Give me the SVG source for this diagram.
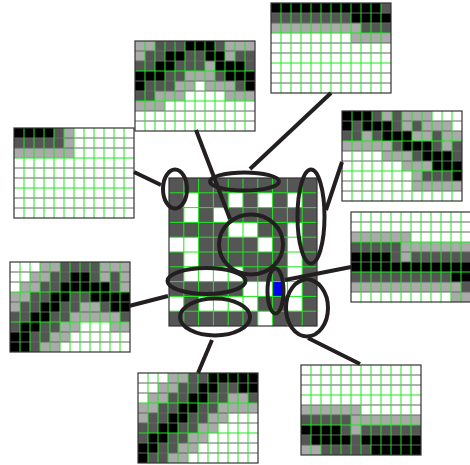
<svg xmlns="http://www.w3.org/2000/svg" xmlns:xlink="http://www.w3.org/1999/xlink" width="470" height="465" viewBox="0 0 470 465">
<style>
.k{fill:#000}.d{fill:#555}.l{fill:#aaa}.w{fill:#fff}
.gv{stroke:#1fe81f;stroke-width:1;fill:none}
.gh{stroke:#666;stroke-width:1;fill:none}
.bd{fill:none;stroke:#333;stroke-width:1.2}
.el{fill:none;stroke:#231f20;stroke-width:4}
.cn{stroke:#231f20;stroke-width:4;fill:none}
</style>
<defs>
<g id="pgrid">
<path class="gh" d="M0 10H120M0 20H120M0 40H120M0 50H120M0 70H120M0 80H120"/>
<path class="gv" d="M0 30H120M0 60H120M10 0V90M20 0V90M30 0V90M40 0V90M50 0V90M60 0V90M70 0V90M80 0V90M90 0V90M100 0V90M110 0V90"/>
<rect class="bd" x="0" y="0" width="120" height="90"/>
</g>
</defs>
<rect width="470" height="465" fill="#fff"/>

<g id="patch1" transform="translate(135,41)">
<rect class="w" width="120" height="90"/>
<rect class="l" x="0" y="0" width="20" height="10"/><rect class="d" x="20" y="0" width="30" height="10"/><rect class="k" x="50" y="0" width="30" height="10"/><rect class="d" x="80" y="0" width="10" height="10"/><rect class="l" x="90" y="0" width="30" height="10"/>
<rect class="l" x="0" y="10" width="10" height="10"/><rect class="d" x="10" y="10" width="20" height="10"/><rect class="k" x="30" y="10" width="20" height="10"/><rect class="d" x="50" y="10" width="20" height="10"/><rect class="k" x="70" y="10" width="20" height="10"/><rect class="l" x="90" y="10" width="10" height="10"/><rect class="d" x="100" y="10" width="20" height="10"/>
<rect class="d" x="0" y="20" width="20" height="10"/><rect class="k" x="20" y="20" width="20" height="10"/><rect class="d" x="40" y="20" width="30" height="10"/><rect class="l" x="70" y="20" width="10" height="10"/><rect class="k" x="80" y="20" width="30" height="10"/><rect class="d" x="110" y="20" width="10" height="10"/>
<rect class="k" x="0" y="30" width="30" height="10"/><rect class="d" x="30" y="30" width="20" height="10"/><rect class="l" x="50" y="30" width="30" height="10"/><rect class="d" x="80" y="30" width="10" height="10"/><rect class="k" x="90" y="30" width="30" height="10"/>
<rect class="k" x="0" y="40" width="10" height="10"/><rect class="d" x="10" y="40" width="30" height="10"/><rect class="l" x="40" y="40" width="20" height="10"/><rect class="l" x="70" y="40" width="30" height="10"/><rect class="d" x="100" y="40" width="10" height="10"/><rect class="k" x="110" y="40" width="10" height="10"/>
<rect class="d" x="0" y="50" width="20" height="10"/><rect class="l" x="20" y="50" width="30" height="10"/><rect class="l" x="90" y="50" width="30" height="10"/>
<rect class="l" x="0" y="60" width="30" height="10"/>
<use xlink:href="#pgrid"/>
</g>

<g id="patch2" transform="translate(271,3)">
<rect class="w" width="120" height="90"/>
<rect class="k" x="0" y="0" width="110" height="10"/><rect class="d" x="110" y="0" width="10" height="10"/>
<rect class="d" x="0" y="10" width="80" height="10"/><rect class="k" x="80" y="10" width="40" height="10"/>
<rect class="l" x="0" y="20" width="90" height="10"/><rect class="d" x="90" y="20" width="30" height="10"/>
<rect class="l" x="80" y="30" width="40" height="10"/>
<use xlink:href="#pgrid"/>
</g>

<g id="patch3" transform="translate(14,128)">
<rect class="w" width="120" height="90"/>
<rect class="k" x="0" y="0" width="40" height="10"/><rect class="d" x="40" y="0" width="10" height="10"/><rect class="l" x="50" y="0" width="10" height="10"/>
<rect class="d" x="0" y="10" width="50" height="10"/><rect class="l" x="50" y="10" width="10" height="10"/>
<rect class="l" x="0" y="20" width="60" height="10"/>
<use xlink:href="#pgrid"/>
</g>

<g id="patch4" transform="translate(342,111)">
<rect class="w" width="120" height="90"/>
<rect class="k" x="0" y="0" width="30" height="10"/><rect class="d" x="30" y="0" width="10" height="10"/><rect class="l" x="40" y="0" width="10" height="10"/><rect class="d" x="50" y="0" width="10" height="10"/><rect class="l" x="60" y="0" width="30" height="10"/>
<rect class="k" x="0" y="10" width="10" height="10"/><rect class="d" x="10" y="10" width="10" height="10"/><rect class="k" x="20" y="10" width="30" height="10"/><rect class="d" x="50" y="10" width="10" height="10"/><rect class="l" x="60" y="10" width="10" height="10"/><rect class="d" x="70" y="10" width="10" height="10"/><rect class="l" x="80" y="10" width="30" height="10"/>
<rect class="d" x="0" y="20" width="20" height="10"/><rect class="l" x="20" y="20" width="10" height="10"/><rect class="d" x="30" y="20" width="10" height="10"/><rect class="k" x="40" y="20" width="30" height="10"/><rect class="l" x="70" y="20" width="20" height="10"/><rect class="d" x="90" y="20" width="10" height="10"/><rect class="l" x="100" y="20" width="20" height="10"/>
<rect class="l" x="0" y="30" width="50" height="10"/><rect class="d" x="50" y="30" width="10" height="10"/><rect class="k" x="60" y="30" width="30" height="10"/><rect class="d" x="90" y="30" width="10" height="10"/><rect class="l" x="100" y="30" width="10" height="10"/><rect class="d" x="110" y="30" width="10" height="10"/>
<rect class="l" x="40" y="40" width="30" height="10"/><rect class="d" x="70" y="40" width="10" height="10"/><rect class="k" x="80" y="40" width="30" height="10"/><rect class="d" x="110" y="40" width="10" height="10"/>
<rect class="l" x="60" y="50" width="30" height="10"/><rect class="k" x="90" y="50" width="30" height="10"/>
<rect class="l" x="70" y="60" width="10" height="10"/><rect class="d" x="80" y="60" width="30" height="10"/><rect class="k" x="110" y="60" width="10" height="10"/>
<rect class="l" x="70" y="70" width="50" height="10"/>
<use xlink:href="#pgrid"/>
</g>

<g id="patch5" transform="translate(351,212)">
<rect class="w" width="120" height="90"/>
<rect class="l" x="0" y="20" width="60" height="10"/>
<rect class="d" x="0" y="30" width="50" height="10"/><rect class="l" x="50" y="30" width="70" height="10"/>
<rect class="k" x="0" y="40" width="40" height="10"/><rect class="d" x="40" y="40" width="10" height="10"/><rect class="l" x="50" y="40" width="10" height="10"/><rect class="d" x="60" y="40" width="60" height="10"/>
<rect class="k" x="0" y="50" width="120" height="10"/>
<rect class="d" x="0" y="60" width="100" height="10"/><rect class="k" x="100" y="60" width="20" height="10"/>
<rect class="l" x="0" y="70" width="110" height="10"/><rect class="d" x="110" y="70" width="10" height="10"/>
<rect class="l" x="100" y="80" width="20" height="10"/>
<use xlink:href="#pgrid"/>
</g>

<g id="patch6" transform="translate(10,262)">
<rect class="w" width="120" height="90"/>
<rect class="l" x="30" y="0" width="20" height="10"/><rect class="d" x="50" y="0" width="40" height="10"/><rect class="l" x="90" y="0" width="30" height="10"/>
<rect class="l" x="20" y="10" width="20" height="10"/><rect class="d" x="40" y="10" width="20" height="10"/><rect class="k" x="60" y="10" width="20" height="10"/><rect class="d" x="80" y="10" width="10" height="10"/><rect class="l" x="90" y="10" width="10" height="10"/><rect class="d" x="100" y="10" width="10" height="10"/><rect class="l" x="110" y="10" width="10" height="10"/>
<rect class="l" x="10" y="20" width="20" height="10"/><rect class="d" x="30" y="20" width="20" height="10"/><rect class="k" x="50" y="20" width="50" height="10"/><rect class="d" x="100" y="20" width="10" height="10"/><rect class="l" x="110" y="20" width="10" height="10"/>
<rect class="l" x="0" y="30" width="20" height="10"/><rect class="d" x="20" y="30" width="20" height="10"/><rect class="k" x="40" y="30" width="20" height="10"/><rect class="d" x="60" y="30" width="20" height="10"/><rect class="k" x="80" y="30" width="40" height="10"/>
<rect class="l" x="0" y="40" width="10" height="10"/><rect class="d" x="10" y="40" width="20" height="10"/><rect class="k" x="30" y="40" width="20" height="10"/><rect class="d" x="50" y="40" width="20" height="10"/><rect class="l" x="70" y="40" width="20" height="10"/><rect class="d" x="90" y="40" width="10" height="10"/><rect class="k" x="100" y="40" width="20" height="10"/>
<rect class="d" x="0" y="50" width="20" height="10"/><rect class="k" x="20" y="50" width="20" height="10"/><rect class="d" x="40" y="50" width="20" height="10"/><rect class="l" x="60" y="50" width="50" height="10"/><rect class="d" x="110" y="50" width="10" height="10"/>
<rect class="d" x="0" y="60" width="10" height="10"/><rect class="k" x="10" y="60" width="20" height="10"/><rect class="d" x="30" y="60" width="20" height="10"/><rect class="l" x="50" y="60" width="20" height="10"/><rect class="l" x="100" y="60" width="20" height="10"/>
<rect class="k" x="0" y="70" width="20" height="10"/><rect class="d" x="20" y="70" width="20" height="10"/><rect class="l" x="40" y="70" width="20" height="10"/>
<rect class="k" x="0" y="80" width="20" height="10"/><rect class="d" x="20" y="80" width="10" height="10"/><rect class="l" x="30" y="80" width="20" height="10"/>
<use xlink:href="#pgrid"/>
</g>

<g id="patch7" transform="translate(138,373)">
<rect class="w" width="120" height="90"/>
<rect class="l" x="30" y="0" width="20" height="10"/><rect class="d" x="50" y="0" width="20" height="10"/><rect class="k" x="70" y="0" width="50" height="10"/>
<rect class="l" x="20" y="10" width="20" height="10"/><rect class="d" x="40" y="10" width="20" height="10"/><rect class="k" x="60" y="10" width="20" height="10"/><rect class="d" x="80" y="10" width="20" height="10"/><rect class="k" x="100" y="10" width="20" height="10"/>
<rect class="l" x="10" y="20" width="20" height="10"/><rect class="d" x="30" y="20" width="20" height="10"/><rect class="k" x="50" y="20" width="20" height="10"/><rect class="d" x="70" y="20" width="20" height="10"/><rect class="l" x="90" y="20" width="20" height="10"/><rect class="d" x="110" y="20" width="10" height="10"/>
<rect class="l" x="0" y="30" width="20" height="10"/><rect class="d" x="20" y="30" width="20" height="10"/><rect class="k" x="40" y="30" width="20" height="10"/><rect class="d" x="60" y="30" width="20" height="10"/><rect class="l" x="80" y="30" width="40" height="10"/>
<rect class="l" x="0" y="40" width="10" height="10"/><rect class="d" x="10" y="40" width="20" height="10"/><rect class="k" x="30" y="40" width="20" height="10"/><rect class="d" x="50" y="40" width="20" height="10"/><rect class="l" x="70" y="40" width="20" height="10"/>
<rect class="d" x="0" y="50" width="20" height="10"/><rect class="k" x="20" y="50" width="20" height="10"/><rect class="d" x="40" y="50" width="20" height="10"/><rect class="l" x="60" y="50" width="20" height="10"/>
<rect class="d" x="0" y="60" width="10" height="10"/><rect class="k" x="10" y="60" width="20" height="10"/><rect class="d" x="30" y="60" width="20" height="10"/><rect class="l" x="50" y="60" width="20" height="10"/>
<rect class="k" x="0" y="70" width="20" height="10"/><rect class="d" x="20" y="70" width="20" height="10"/><rect class="l" x="40" y="70" width="20" height="10"/>
<rect class="k" x="0" y="80" width="10" height="10"/><rect class="d" x="10" y="80" width="20" height="10"/><rect class="l" x="30" y="80" width="20" height="10"/>
<use xlink:href="#pgrid"/>
</g>

<g id="patch8" transform="translate(301,365)">
<rect class="w" width="120" height="90"/>
<rect class="l" x="0" y="40" width="60" height="10"/>
<rect class="d" x="0" y="50" width="50" height="10"/><rect class="l" x="50" y="50" width="70" height="10"/>
<rect class="k" x="0" y="60" width="40" height="10"/><rect class="d" x="40" y="60" width="10" height="10"/><rect class="l" x="50" y="60" width="10" height="10"/><rect class="d" x="60" y="60" width="60" height="10"/>
<rect class="d" x="0" y="70" width="10" height="10"/><rect class="k" x="10" y="70" width="40" height="10"/><rect class="d" x="50" y="70" width="10" height="10"/><rect class="k" x="60" y="70" width="60" height="10"/>
<rect class="l" x="0" y="80" width="20" height="10"/><rect class="d" x="20" y="80" width="50" height="10"/><rect class="k" x="70" y="80" width="50" height="10"/>
<use xlink:href="#pgrid"/>
</g>

<g id="center" transform="translate(169,178)">
<rect class="d" width="148" height="148"/>
<rect class="w" x="14.8" y="14.8" width="14.8" height="29.6"/>
<rect class="w" x="59.2" y="14.8" width="14.8" height="14.8"/>
<rect class="w" x="88.8" y="14.8" width="14.8" height="14.8"/>
<rect class="w" x="118.4" y="14.8" width="14.8" height="14.8"/>
<rect class="w" x="44.4" y="29.6" width="14.8" height="14.8"/>
<rect class="w" x="59.2" y="44.4" width="29.6" height="14.8"/>
<rect class="w" x="118.4" y="44.4" width="14.8" height="88.8"/>
<rect class="w" x="0" y="59.2" width="29.6" height="14.8"/>
<rect class="w" x="88.8" y="59.2" width="14.8" height="14.8"/>
<rect class="w" x="14.8" y="74" width="14.8" height="14.8"/>
<rect class="w" x="14.8" y="88.8" width="59.2" height="14.8"/>
<rect class="w" x="74" y="103.6" width="44.4" height="14.8"/>
<rect x="103.6" y="103.6" width="11" height="14.8" fill="#0000f0"/>
<rect class="w" x="0" y="118.4" width="14.8" height="14.8"/>
<rect class="w" x="29.6" y="118.4" width="59.2" height="14.8"/>
<rect class="w" x="88.8" y="133.2" width="14.8" height="14.8"/>
<path class="gv" d="M14.8 0V148M29.6 0V148M44.4 0V148M59.2 0V148M74 0V148M88.8 0V148M103.6 0V148M118.4 0V148M133.2 0V148M0 14.8H148M0 29.6H148M0 44.4H148M0 59.2H148M0 74H148M0 88.8H148M0 103.6H148M0 118.4H148M0 133.2H148"/>
<rect class="bd" width="148" height="148"/>
</g>

<g id="connectors">
<line class="cn" x1="196" y1="130" x2="230" y2="219"/>
<line class="cn" x1="331" y1="93" x2="250" y2="169"/>
<line class="cn" x1="134" y1="172" x2="161" y2="185"/>
<line class="cn" x1="342" y1="162" x2="326" y2="210"/>
<line class="cn" x1="351" y1="267" x2="285" y2="280"/>
<line class="cn" x1="129" y1="306" x2="168" y2="296"/>
<line class="cn" x1="212" y1="340" x2="198" y2="373"/>
<line class="cn" x1="308" y1="338" x2="360" y2="364"/>
</g>

<g id="ellipses">
<ellipse class="el" cx="175" cy="189" rx="12" ry="19.5"/>
<ellipse class="el" cx="244.5" cy="181.5" rx="34.5" ry="9"/>
<ellipse class="el" cx="311" cy="216.5" rx="13.5" ry="47"/>
<ellipse class="el" cx="251" cy="244.5" rx="32" ry="30"/>
<ellipse class="el" cx="206.5" cy="281" rx="39" ry="13"/>
<ellipse class="el" cx="275.5" cy="291" rx="8" ry="22.5"/>
<ellipse class="el" cx="215" cy="317" rx="35" ry="18.5"/>
<ellipse class="el" cx="307" cy="308" rx="21" ry="28.5"/>
</g>
</svg>
